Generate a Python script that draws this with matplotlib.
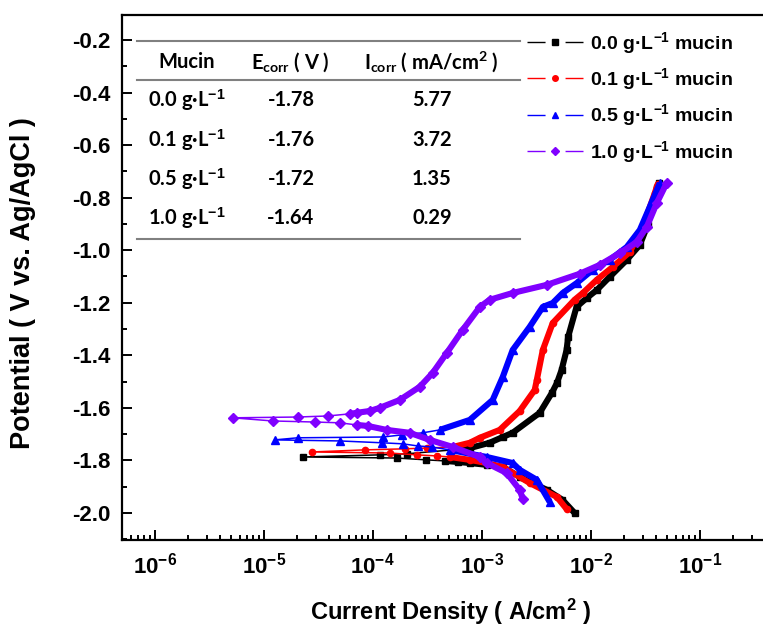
import matplotlib
matplotlib.use("Agg")
import matplotlib.pyplot as plt
from matplotlib.lines import Line2D
from matplotlib.ticker import LogLocator, MultipleLocator, NullFormatter
import numpy as np

# current density (A/cm2) and potential (V vs Ag/AgCl):
# cathodic end -> corrosion potential -> anodic end
i_00 = [7.1e-3, 5.5e-3, 3.95e-3, 2.23e-3, 1.56e-3, 1.11e-3, 7.8e-4, 6.0e-4, 4.6e-4, 3.1e-4, 1.66e-4,
        2.3e-5,
        1.16e-4, 2.05e-4, 5.4e-4, 7.8e-4, 1.18e-3, 1.56e-3, 1.92e-3, 3.4e-3, 4.4e-3, 4.9e-3, 5.4e-3,
        6.0e-3, 6.2e-3, 7.4e-3, 9.2e-3, 1.14e-2, 1.49e-2, 2.14e-2, 2.82e-2, 3.33e-2, 3.71e-2, 4.04e-2, 4.2e-2]
E_00 = [-2.00, -1.95, -1.912, -1.863, -1.825, -1.817, -1.810, -1.806, -1.802, -1.798, -1.791,
        -1.787,
        -1.779, -1.775, -1.760, -1.753, -1.733, -1.711, -1.695, -1.619, -1.543, -1.505, -1.456,
        -1.380, -1.330, -1.216, -1.182, -1.151, -1.102, -1.037, -0.980, -0.904, -0.828, -0.763, -0.745]

i_01 = [6.0e-3, 4.88e-3, 2.75e-3, 1.56e-3, 1.11e-3, 7.76e-4, 5.08e-4, 3.86e-4, 2.53e-4, 1.43e-4,
        2.75e-5,
        8.45e-5, 1.97e-4, 3.13e-4, 5.42e-4, 7.76e-4, 9.6e-4, 1.46e-3, 2.23e-3, 3.06e-3, 3.2e-3, 3.63e-3,
        4.48e-3, 7.1e-3, 8.45e-3, 1.135e-2, 1.59e-2, 2.28e-2, 3.0e-2, 3.87e-2, 4.1e-2]
E_01 = [-1.985, -1.939, -1.886, -1.825, -1.810, -1.798, -1.787, -1.783, -1.779, -1.772,
        -1.768,
        -1.760, -1.756, -1.753, -1.749, -1.733, -1.714, -1.684, -1.612, -1.532, -1.494, -1.380,
        -1.277, -1.189, -1.163, -1.113, -1.064, -1.007, -0.912, -0.782, -0.750]

i_05 = [4.2e-3, 3.2e-3, 2.23e-3, 1.92e-3, 1.11e-3, 5.08e-4, 3.48e-4, 2.59e-4, 1.88e-4, 1.21e-4, 4.98e-5,
        1.26e-5,
        2.05e-5, 1.24e-4, 1.85e-4, 2.88e-4, 4.12e-4, 7.76e-4, 1.26e-3, 1.56e-3, 1.92e-3, 2.75e-3,
        3.63e-3, 4.48e-3, 5.53e-3, 7.44e-3, 1.04e-2, 1.49e-2, 2.14e-2, 2.82e-2, 3.48e-2, 4.3e-2]
E_05 = [-1.958, -1.874, -1.836, -1.810, -1.787, -1.760, -1.749, -1.745, -1.737, -1.733, -1.726,
        -1.722,
        -1.714, -1.711, -1.703, -1.695, -1.684, -1.646, -1.570, -1.482, -1.380, -1.292,
        -1.216, -1.201, -1.163, -1.125, -1.075, -1.037, -0.988, -0.923, -0.835, -0.744]

i_10 = [2.38e-3, 2.23e-3, 1.69e-3, 1.11e-3, 9.6e-4, 5.42e-4, 3.33e-4, 2.18e-4, 1.34e-4, 9.0e-5, 7.13e-5,
        4.98e-5, 2.94e-5, 1.21e-5,
        5.2e-6,
        2.05e-5, 3.86e-5, 6.15e-5, 7.13e-5, 9.4e-5, 1.16e-4, 1.77e-4, 2.7e-4, 3.55e-4, 4.78e-4, 6.7e-4,
        9.6e-4, 1.18e-3, 1.92e-3, 3.95e-3, 7.9e-3, 1.21e-2, 1.85e-2, 2.64e-2, 3.26e-2, 4.04e-2, 4.98e-2]
E_10 = [-1.947, -1.912, -1.848, -1.810, -1.787, -1.749, -1.722, -1.695, -1.684, -1.669, -1.665,
        -1.657, -1.654, -1.650,
        -1.638,
        -1.635, -1.631, -1.623, -1.619, -1.612, -1.600, -1.570, -1.520, -1.467, -1.391, -1.303,
        -1.216, -1.189, -1.163, -1.132, -1.090, -1.056, -1.011, -0.969, -0.912, -0.820, -0.744]

series_labels = ["0.0 g·L$^{-1}$ mucin", "0.1 g·L$^{-1}$ mucin",
                 "0.5 g·L$^{-1}$ mucin", "1.0 g·L$^{-1}$ mucin"]

# inset table
table_mucin = ["0.0 g·L$^{-1}$", "0.1 g·L$^{-1}$", "0.5 g·L$^{-1}$", "1.0 g·L$^{-1}$"]
table_ecorr = ["-1.78", "-1.76", "-1.72", "-1.64"]
table_icorr = ["5.77", "3.72", "1.35", "0.29"]

colors = ["black", "#ff0000", "#0000ff", "#8000ff"]
markers = ["s", "o", "^", "D"]
msizes = [4.5, 4.5, 5.5, 4.8]
dense_from = [4.5e-4, 4.5e-4, 4.0e-4, 6.0e-5]   # where the recorded points crowd into a band

plt.rcParams['font.family'] = ['Liberation Sans', 'DejaVu Sans']
plt.rcParams['font.weight'] = 'bold'
plt.rcParams['axes.labelweight'] = 'bold'
plt.rcParams['mathtext.fontset'] = 'custom'
plt.rcParams['mathtext.rm'] = 'Liberation Sans:bold'
plt.rcParams['mathtext.it'] = 'Liberation Sans:bold'
plt.rcParams['mathtext.bf'] = 'Liberation Sans:bold'

W, H = 763, 629
fig = plt.figure(figsize=(W / 100, H / 100), dpi=100)
ax = fig.add_axes([122 / W, 89 / H, (W - 122) / W, (540 - 15) / H])


def px(x, y):
    return x / W, 1 - y / H


all_i = [i_00, i_01, i_05, i_10]
all_E = [E_00, E_01, E_05, E_10]
for k in range(4):
    cur = np.array(all_i[k])
    pot = np.array(all_E[k])
    ax.plot(cur, pot, color=colors[k], lw=1.1, marker=markers[k], ms=msizes[k],
            mec=colors[k], mfc=colors[k], zorder=3 + k)
    band = np.where(cur >= dense_from[k], pot, np.nan)
    ax.plot(cur, band, color=colors[k], lw=4.4, solid_capstyle='butt', zorder=3 + k)

ax.set_xscale('log')
ax.set_xlim(10 ** -6.30, 10 ** -0.42)
ax.set_ylim(-2.103, -0.105)
ax.yaxis.set_major_locator(MultipleLocator(0.2))
ax.yaxis.set_minor_locator(MultipleLocator(0.1))
ax.yaxis.set_major_formatter(plt.FuncFormatter(lambda v, p: "%.1f" % v))
ax.xaxis.set_major_locator(LogLocator(base=10, numticks=20))
ax.xaxis.set_minor_locator(LogLocator(base=10, subs=np.arange(2, 10), numticks=20))
ax.xaxis.set_minor_formatter(NullFormatter())

ax.tick_params(which='both', direction='in', width=1.4, labelsize=16, top=False, right=False)
ax.tick_params(which='major', length=7.5)
ax.tick_params(which='minor', length=3.8)
ax.tick_params(axis='y', pad=8)
ax.tick_params(axis='x', pad=9)
for s in ['left', 'bottom', 'top']:
    ax.spines[s].set_linewidth(1.6)
ax.spines['right'].set_visible(False)

ax.set_xlabel("Current Density ( A/cm$^{2}$ )", fontsize=17)
ax.set_ylabel("Potential ( V vs. Ag/AgCl )", fontsize=19.5)
ax.xaxis.set_label_coords(0.512, -0.108)
ax.yaxis.set_label_coords(-0.134, 0.49)

handles = [Line2D([], [], color=colors[k], lw=1, marker=markers[k], ms=msizes[k] - 0.5,
                  dashes=(13, 14.4)) for k in range(4)]
fig.legend(handles, series_labels, loc='upper left', bbox_to_anchor=px(527, 30),
           frameon=False, fontsize=14, borderpad=0, borderaxespad=0, handlelength=2.9,
           handletextpad=0.36, labelspacing=0.53)

# inset table
tfont = dict(family=['Lato', 'DejaVu Sans'], weight='bold', fontsize=14.5)
for yy in [41, 80, 239]:
    fig.add_artist(Line2D([137 / W, 520 / W], [1 - yy / H, 1 - yy / H], color='#808080', lw=1.5))
fig.text(*px(187, 62), "Mucin", ha='center', va='center', **tfont)
fig.text(*px(290, 62), "E$_{\\mathregular{corr}}$ ( V )", ha='center', va='center', **tfont)
fig.text(*px(431, 62), "I$_{\\mathregular{corr}}$ ( mA/cm$^{\\mathregular{2}}$ )", ha='center', va='center', **tfont)
row_y = [100, 140, 179, 218]
for r in range(4):
    fig.text(*px(148, row_y[r]), table_mucin[r], ha='left', va='center', **tfont)
    fig.text(*px(291, row_y[r]), table_ecorr[r], ha='center', va='center', **tfont)
    fig.text(*px(432, row_y[r]), table_icorr[r], ha='center', va='center', **tfont)

fig.savefig("out.png", dpi=100)
